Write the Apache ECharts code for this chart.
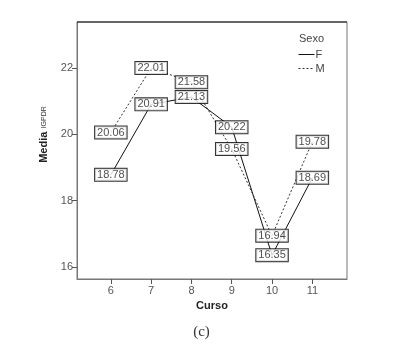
<!DOCTYPE html>
<html>
<head>
<meta charset="utf-8">
<script src="https://cdn.jsdelivr.net/npm/echarts@6/dist/echarts.min.js"></script>
<style>
  html, body { margin: 0; padding: 0; background: #fff; }
  #chart { width: 403px; height: 352px; }
</style>
</head>
<body>
<div id="chart"></div>
<script>
var cursos = [6, 7, 8, 9, 10, 11];
var mediaF = [18.78, 20.91, 21.13, 20.22, 16.35, 18.69];
var mediaM = [20.06, 22.01, 21.58, 19.56, 16.94, 19.78];
var yTicks = [16, 18, 20, 22];

function pairs(xs, ys) {
    return xs.map(function (x, i) { return [x, ys[i]]; });
}

// value boxes, drawn as a separate layer so they sit over both lines
var boxLabel = {
    show: true,
    position: 'inside',
    formatter: function (p) { return p.value[1].toFixed(2); },
    backgroundColor: '#fff',
    borderColor: '#000',
    borderWidth: 1,
    padding: [1, 2, 0, 2],
    fontFamily: 'Liberation Sans',
    fontSize: 11,
    color: '#222'
};

var chart = echarts.init(document.getElementById('chart'));

var option = {
    backgroundColor: '#fff',
    animation: false,
    title: [
        {
            text: 'Sexo',
            left: 294,
            top: 28,
            textStyle: { fontFamily: 'Liberation Sans', fontSize: 11, fontWeight: 'normal', color: '#444' }
        },
        {
            text: '(c)',
            left: 'center',
            top: 320,
            textStyle: { fontFamily: 'Liberation Serif', fontSize: 15, fontWeight: 'normal', color: '#333' }
        }
    ],
    legend: {
        orient: 'vertical',
        left: 293,
        top: 44,
        itemWidth: 16,
        itemHeight: 10,
        itemGap: 3,
        textStyle: { fontFamily: 'Liberation Sans', fontSize: 11, color: '#444', padding: [0, 0, 0, -4] },
        itemStyle: { opacity: 0 },
        lineStyle: { width: 1 },
        data: ['F', 'M']
    },
    grid: {
        left: 77,
        top: 22,
        width: 270,
        height: 257,
        show: true,
        borderColor: '#777',
        borderWidth: 1
    },
    xAxis: {
        type: 'value',
        min: 5.16,
        max: 11.86,
        name: 'Curso',
        nameLocation: 'middle',
        nameGap: 17,
        nameTextStyle: { fontFamily: 'Liberation Sans', fontSize: 11, fontWeight: 'bold', color: '#222' },
        axisLine: { show: true, lineStyle: { color: '#777' } },
        axisTick: { show: true, length: 5, customValues: cursos, lineStyle: { color: '#555' } },
        axisLabel: { customValues: cursos, fontFamily: 'Liberation Sans', fontSize: 11, color: '#555', margin: 6 },
        splitLine: { show: false }
    },
    yAxis: {
        type: 'value',
        min: 15.63,
        max: 23.4,
        name: '{a|Media} {b|IGPDR}',
        nameLocation: 'middle',
        nameGap: 26,
        nameTextStyle: {
            padding: [0, 0, 0, 32],
            rich: {
                a: { fontFamily: 'Liberation Sans', fontSize: 11, fontWeight: 'bold', color: '#222' },
                b: { fontFamily: 'Liberation Sans', fontSize: 7, color: '#333' }
            }
        },
        axisLine: { show: true, lineStyle: { color: '#777' } },
        axisTick: { show: true, length: 5, customValues: yTicks, lineStyle: { color: '#555' } },
        axisLabel: { customValues: yTicks, fontFamily: 'Liberation Sans', fontSize: 11, color: '#555', margin: 4 },
        splitLine: { show: false }
    },
    graphic: [
        {
            type: 'line',
            shape: { x1: 77, y1: 22, x2: 347, y2: 22 },
            style: { stroke: '#111', lineWidth: 1 },
            z: 100
        }
    ],
    series: [
        {
            name: 'F',
            type: 'line',
            data: pairs(cursos, mediaF),
            showSymbol: false,
            lineStyle: { color: '#111', width: 1, type: 'solid' },
            z: 2
        },
        {
            name: 'M',
            type: 'line',
            data: pairs(cursos, mediaM),
            showSymbol: false,
            lineStyle: { color: '#333', width: 1, type: [2, 2] },
            z: 2
        },
        {
            name: 'F valores',
            type: 'scatter',
            data: pairs(cursos, mediaF),
            symbolSize: 1,
            itemStyle: { color: 'rgba(0,0,0,0)' },
            label: boxLabel,
            z: 5
        },
        {
            name: 'M valores',
            type: 'scatter',
            data: pairs(cursos, mediaM),
            symbolSize: 1,
            itemStyle: { color: 'rgba(0,0,0,0)' },
            label: boxLabel,
            z: 5
        }
    ]
};

chart.setOption(option);
</script>
</body>
</html>
